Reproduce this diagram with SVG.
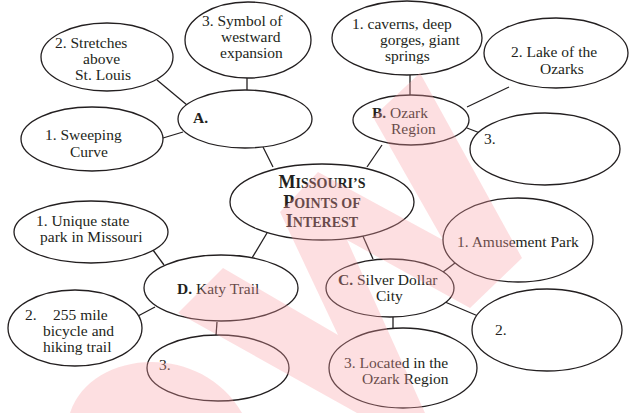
<svg xmlns="http://www.w3.org/2000/svg" width="637" height="413" viewBox="0 0 637 413">
<style>
  .node ellipse { fill: #ffffff; stroke: #231f20; stroke-width: 1.3; }
  .conn line { stroke: #231f20; stroke-width: 1.3; }
  text { font-family: "Liberation Serif", "Times New Roman", serif; font-size: 15.5px; fill: #231f20; }
  .b { font-weight: bold; }
  .title { font-weight: bold; text-anchor: middle; }
  .wm { fill: #fa9ea5; opacity: 0.33; }
</style>
<rect width="637" height="413" fill="#ffffff"/>

<g id="connectors" class="conn">
  <line x1="157" y1="80" x2="187" y2="105"/>
  <line x1="163" y1="138" x2="183" y2="132"/>
  <line x1="247" y1="78" x2="247" y2="90"/>
  <line x1="263" y1="147" x2="273" y2="167"/>
  <line x1="410" y1="75" x2="410" y2="96"/>
  <line x1="467" y1="107" x2="509" y2="87"/>
  <line x1="467" y1="128" x2="480" y2="133"/>
  <line x1="382" y1="145" x2="367" y2="167"/>
  <line x1="153" y1="250" x2="164" y2="265"/>
  <line x1="138" y1="316" x2="155" y2="307"/>
  <line x1="217" y1="322" x2="216" y2="336"/>
  <line x1="252" y1="258" x2="267" y2="233"/>
  <line x1="443" y1="272" x2="455" y2="263"/>
  <line x1="445" y1="302" x2="478" y2="316"/>
  <line x1="393" y1="317" x2="393" y2="328"/>
  <line x1="362" y1="234" x2="373" y2="259"/>
</g>

<g id="center" class="node">
  <ellipse cx="322" cy="202" rx="92" ry="38"/>
  <text class="title" x="322" y="188"><tspan font-size="18">M</tspan><tspan font-size="14">ISSOURI’S</tspan></text>
  <text class="title" x="322" y="208"><tspan font-size="18">P</tspan><tspan font-size="14">OINTS OF</tspan></text>
  <text class="title" x="322" y="227"><tspan font-size="18">I</tspan><tspan font-size="14">NTEREST</tspan></text>
</g>

<g id="nodeA" class="node">
  <ellipse cx="245" cy="119" rx="67" ry="29"/>
  <text class="b" x="193" y="123">A.</text>
</g>
<g id="a1" class="node">
  <ellipse cx="92" cy="139" rx="71" ry="32"/>
  <text x="45" y="140">1. Sweeping</text>
  <text x="70" y="157">Curve</text>
</g>
<g id="a2" class="node">
  <ellipse cx="107" cy="57" rx="66" ry="34"/>
  <text x="55" y="48">2. Stretches</text>
  <text x="83" y="64">above</text>
  <text x="75" y="80">St. Louis</text>
</g>
<g id="a3" class="node">
  <ellipse cx="248" cy="40" rx="63" ry="38"/>
  <text x="202" y="26">3. Symbol of</text>
  <text x="221" y="42">westward</text>
  <text x="220" y="58">expansion</text>
</g>

<g id="nodeB" class="node">
  <ellipse cx="411" cy="120" rx="58" ry="25"/>
  <text x="372" y="118"><tspan class="b">B.</tspan> Ozark</text>
  <text x="391" y="134">Region</text>
</g>
<g id="b1" class="node">
  <ellipse cx="407" cy="38" rx="75" ry="37"/>
  <text x="352" y="29">1. caverns, deep</text>
  <text x="380" y="45">gorges, giant</text>
  <text x="385" y="61">springs</text>
</g>
<g id="b2" class="node">
  <ellipse cx="556" cy="53" rx="72" ry="35"/>
  <text x="511" y="57">2. Lake of the</text>
  <text x="540" y="74">Ozarks</text>
</g>
<g id="b3" class="node">
  <ellipse cx="545" cy="149" rx="75" ry="36"/>
  <text x="484" y="144">3.</text>
</g>

<g id="nodeC" class="node">
  <ellipse cx="390" cy="288" rx="64" ry="29"/>
  <text x="338" y="285"><tspan class="b">C.</tspan> Silver Dollar</text>
  <text x="376" y="301">City</text>
</g>
<g id="c1" class="node">
  <ellipse cx="518" cy="240" rx="75" ry="42"/>
  <text x="457" y="247">1. Amusement Park</text>
</g>
<g id="c2" class="node">
  <ellipse cx="547" cy="330" rx="75" ry="41"/>
  <text x="495" y="335">2.</text>
</g>
<g id="c3" class="node">
  <ellipse cx="403" cy="368" rx="74" ry="40"/>
  <text x="344" y="368">3. Located in the</text>
  <text x="362" y="384">Ozark Region</text>
</g>

<g id="nodeD" class="node">
  <ellipse cx="221" cy="288" rx="77" ry="33"/>
  <text x="177" y="294"><tspan class="b">D.</tspan> Katy Trail</text>
</g>
<g id="d1" class="node">
  <ellipse cx="91" cy="232" rx="77" ry="31"/>
  <text x="36" y="226">1. Unique state</text>
  <text x="40" y="242">park in Missouri</text>
</g>
<g id="d2" class="node">
  <ellipse cx="75" cy="328" rx="67" ry="38"/>
  <text y="320"><tspan x="25">2. </tspan><tspan x="53">255 mile</tspan></text>
  <text x="43" y="336">bicycle and</text>
  <text x="43" y="352">hiking trail</text>
</g>
<g id="d3" class="node">
  <ellipse cx="218" cy="368" rx="71" ry="33"/>
  <text x="159" y="370">3.</text>
</g>

<g id="watermark">
  <path class="wm" d="M178,313 L223,268 L338,335 L280,212 L318,172 L443,240 L373,117 L420,73 L522,258 L470,308 L347,240 L425,413 L357,413 Z"/>
  <path class="wm" d="M70,413 C90,350 200,340 242,413 Z"/>
</g>
</svg>
